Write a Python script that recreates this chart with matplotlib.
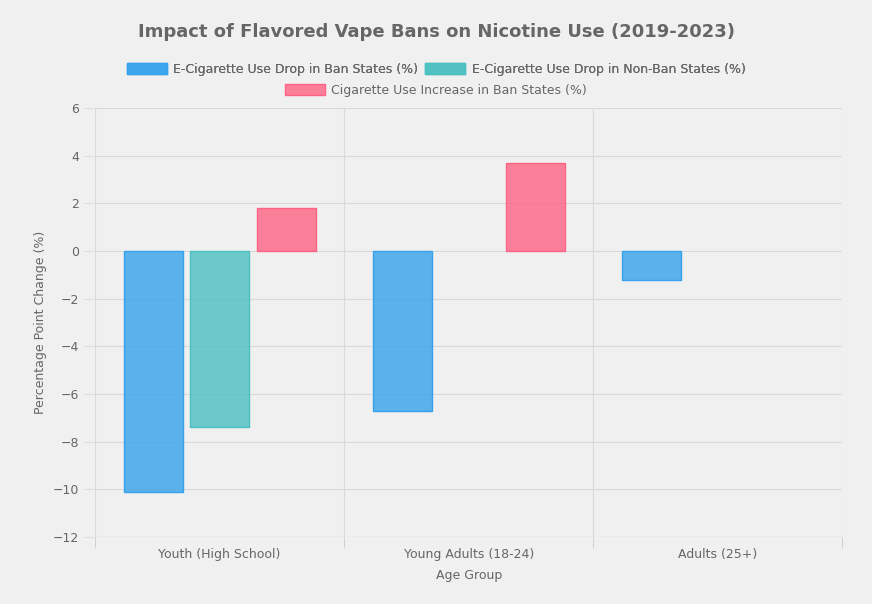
import matplotlib.pyplot as plt
import numpy as np

groups = ["Youth (High School)", "Young Adults (18-24)", "Adults (25+)"]
ban_drop = [-10.1, -6.7, -1.2]
nonban_drop = [-7.4, np.nan, np.nan]
cig_increase = [1.8, 3.7, np.nan]

series = [
    ("E-Cigarette Use Drop in Ban States (%)", ban_drop, (54/255, 162/255, 235/255)),
    ("E-Cigarette Use Drop in Non-Ban States (%)", nonban_drop, (75/255, 192/255, 192/255)),
    ("Cigarette Use Increase in Ban States (%)", cig_increase, (255/255, 99/255, 132/255)),
]

bg = "#f0f0f0"
fig = plt.figure(figsize=(8.72, 6.04), dpi=100, facecolor=bg)
ax = fig.add_axes([0.109, 0.111, 0.857, 0.71], facecolor=bg)

x = np.arange(len(groups))
handles = []
for i, (label, vals, col) in enumerate(series):
    h = ax.bar(x + (i - 1) * 0.267, vals, width=0.237, color=col + (0.8,),
               edgecolor=col, linewidth=1, label=label, zorder=3)
    handles.append(h)

ax.set_xlim(-0.5, 2.5)
ax.set_ylim(-12, 6)
ax.set_yticks(range(-12, 7, 2))
ax.set_xticks(x)
ax.set_xticklabels(groups)
ax.set_xticks([-0.5, 0.5, 1.5, 2.5], minor=True)
ax.tick_params(axis="x", which="major", length=0, pad=8)
ax.tick_params(axis="x", which="minor", length=8, color="#cccccc")
ax.tick_params(axis="y", length=8, color="#dddddd")
ax.tick_params(labelsize=9, labelcolor="#666666")
ax.grid(axis="y", color="#d9d9d9", linewidth=0.8, zorder=0)
ax.grid(axis="x", which="minor", color="#d9d9d9", linewidth=0.8, zorder=0)
for s in ax.spines.values():
    s.set_visible(False)
ax.axhline(-12, color="#bbbbbb", linewidth=0.8)

ax.set_xlabel("Age Group", fontsize=9, color="#666666", labelpad=6)
ax.set_ylabel("Percentage Point Change (%)", fontsize=9, color="#666666")

fig.text(0.5, 0.947, "Impact of Flavored Vape Bans on Nicotine Use (2019-2023)",
         ha="center", va="center", fontsize=13, fontweight="bold", color="#666666")
leg1 = fig.legend(handles=handles[:2], loc="center", bbox_to_anchor=(0.5, 0.885), ncol=2,
                  frameon=False, fontsize=9, handlelength=3.2, handleheight=1,
                  columnspacing=0.6, handletextpad=0.5, labelcolor="#666666")
fig.legend(handles=handles[2:], loc="center", bbox_to_anchor=(0.5, 0.85),
           frameon=False, fontsize=9, handlelength=3.2, handleheight=1,
           handletextpad=0.5, labelcolor="#666666")
fig.add_artist(leg1)

plt.savefig("out.png", facecolor=bg)
